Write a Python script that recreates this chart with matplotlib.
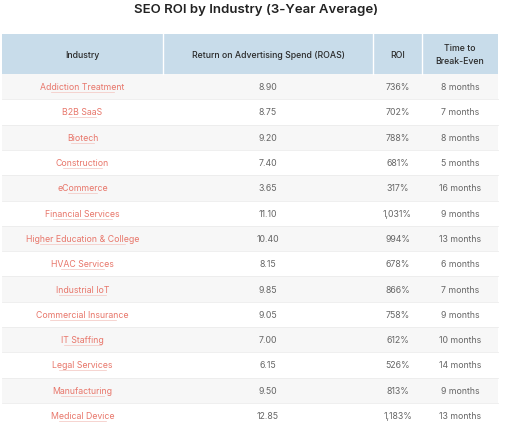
import matplotlib
matplotlib.use("Agg")
import matplotlib.pyplot as plt
from matplotlib.patches import Rectangle

industries = ["Addiction Treatment", "B2B SaaS", "Biotech", "Construction", "eCommerce",
              "Financial Services", "Higher Education & College", "HVAC Services", "Industrial IoT",
              "Commercial Insurance", "IT Staffing", "Legal Services", "Manufacturing", "Medical Device"]
roas = ["8.90", "8.75", "9.20", "7.40", "3.65", "11.10", "10.40", "8.15", "9.85", "9.05", "7.00", "6.15", "9.50", "12.85"]
roi = ["736%", "702%", "788%", "681%", "317%", "1,031%", "994%", "678%", "866%", "758%", "612%", "526%", "813%", "1,183%"]
breakeven = ["8 months", "7 months", "8 months", "5 months", "16 months", "9 months", "13 months",
             "6 months", "7 months", "9 months", "10 months", "14 months", "9 months", "13 months"]
headers = ["Industry", "Return on Advertising Spend (ROAS)", "ROI", "Time to\nBreak-Even"]

plt.rcParams['font.family'] = ['Inter', 'DejaVu Sans']
fig = plt.figure(figsize=(5.12, 4.27), dpi=100)
ax = fig.add_axes([0, 0, 1, 1])
ax.set_xlim(0, 512); ax.set_ylim(427, 0); ax.axis('off')

ax.text(256, 10, "SEO ROI by Industry (3-Year Average)", ha='center', va='center', fontsize=9.5, weight='semibold', color='#222222')

cols = [2, 163, 373, 422, 498]
hy0, hy1 = 35, 75
rh = 25.3
ax.add_patch(Rectangle((cols[0], hy0), cols[-1]-cols[0], hy1-hy0, color='#c8dcea', lw=0))
for c in cols[1:-1]:
    ax.plot([c, c], [hy0, hy1], color='white', lw=1)
for i, h in enumerate(headers):
    ax.text((cols[i]+cols[i+1])/2, (hy0+hy1)/2, h, ha='center', va='center', fontsize=6.3,
            weight='medium', color='#2a2a2a', linespacing=1.7)

for r in range(len(industries)):
    y0 = hy1 + r*rh
    ax.add_patch(Rectangle((cols[0], y0), cols[-1]-cols[0], rh, color='#f7f7f7' if r % 2 == 0 else 'white', lw=0))
    ax.plot([cols[0], cols[-1]], [y0+rh, y0+rh], color='#ececec', lw=0.6)
    yc = y0 + rh/2
    t = ax.text((cols[0]+cols[1])/2, yc, industries[r], ha='center', va='center', fontsize=6.3, color='#e8776b')
    w = len(industries[r]) * 3.3
    ax.plot([(cols[0]+cols[1])/2 - w/2, (cols[0]+cols[1])/2 + w/2], [yc+5.5, yc+5.5], color='#f3c4be', lw=0.5)
    for j, v in enumerate([roas[r], roi[r], breakeven[r]], start=1):
        ax.text((cols[j]+cols[j+1])/2, yc, v, ha='center', va='center', fontsize=6.3, color='#666666')

fig.savefig("out.png", dpi=100, facecolor='white')
